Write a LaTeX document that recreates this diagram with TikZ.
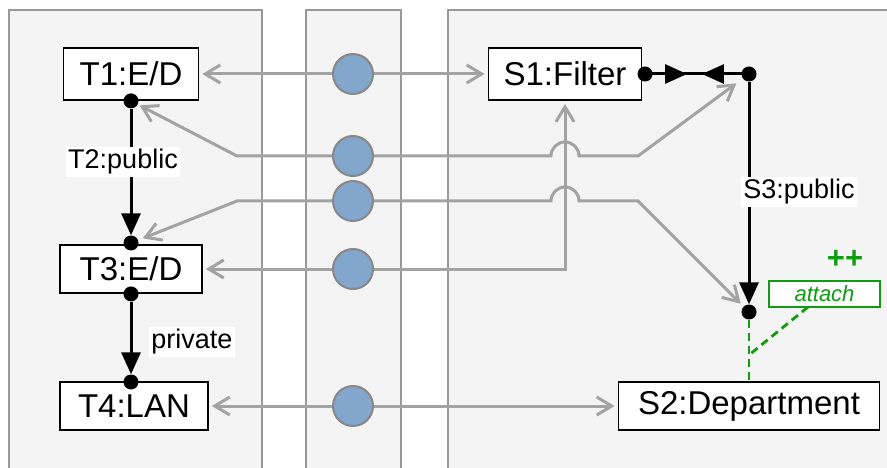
\documentclass[tikz,border=0pt]{standalone}
\usepackage{fontspec}
\setmainfont{Liberation Sans}
\usetikzlibrary{arrows.meta,decorations.markings}
\definecolor{panelfill}{HTML}{F4F4F4}
\definecolor{panelline}{HTML}{999999}
\definecolor{wirec}{HTML}{A3A3A3}
\definecolor{ballc}{HTML}{82A6CC}
\definecolor{balll}{HTML}{888888}
\definecolor{grn}{HTML}{129A12}
\begin{document}
\begin{tikzpicture}[x=1pt,y=-1pt,
 panel/.style={fill=panelfill, draw=panelline, line width=2pt},
 box/.style={draw=black, fill=white, line width=1.8pt, inner sep=0pt, font=\fontsize{33}{38}\selectfont},
 dotn/.style={circle, fill=black, inner sep=0pt, minimum size=15pt},
 ballnode/.style={circle, fill=ballc, draw=balll, line width=2pt, minimum size=40pt, inner sep=0pt},
 gtip/.tip={Straight Barb[length=15pt,width=18pt]},
 wire/.style={draw=wirec, line width=3pt, gtip-gtip},
 btip/.tip={Triangle[length=22pt,width=19pt]},
 link/.style={draw=black, line width=3pt},
 lbl/.style={fill=white, inner sep=2pt, font=\fontsize{27}{32}\selectfont},
 gdash/.style={draw=grn, line width=2.8pt, dash pattern=on 8pt off 5pt}
]
\useasboundingbox (0,0) rectangle (887,468);
\clip (0,0) rectangle (887,468);
% panels
\path[panel] (9,10) rectangle (262,520);
\path[panel] (306,10) rectangle (401,520);
\path[panel] (448,10) rectangle (920,520);

% boxes
\node[box, minimum width=135pt, minimum height=52pt] (t1) at (131,74) {T1:E/D};
\node[box, minimum width=142pt, minimum height=48pt] (t3) at (131,269) {T3:E/D};
\node[box, minimum width=148pt, minimum height=48pt] (t4) at (134,406) {T4:LAN};
\node[box, minimum width=153pt, minimum height=52pt] (s1) at (565,74) {S1:Filter};
\node[box, minimum width=261pt, minimum height=48pt] (s2) at (749,406) {S2:Department};

% dots
\node[dotn] (t1d) at (t1.south) {};
\node[dotn] (t3t) at (131,243) {};
\node[dotn] (t3b) at (t3.south) {};
\node[dotn] (t4t) at (131,382) {};
\node[dotn] (s1d) at (645,74) {};
\node[dotn] (jd) at (749,74) {};
\node[dotn] (ld) at (749,312) {};

% helper coordinates
\coordinate (a1) at (237,156);
\coordinate (a2) at (638,156);
\coordinate (b1) at (237,201);
\coordinate (b2) at (638,201);
\coordinate (cc) at (565,269);

% gray wires
\draw[wire, shorten <=3pt, shorten >=3pt] (t1.east) -- (s1.west);
\draw[wire, shorten <=8pt, shorten >=2pt] (jd) -- (a2) -- (579,156) arc[start angle=0, end angle=-180, radius=14] -- (a1) -- (t1d);
\draw[wire, shorten <=4pt, shorten >=5pt] (ld) -- (b2) -- (579,201) arc[start angle=0, end angle=-180, radius=14] -- (b1) -- (t3t);
\draw[wire, shorten <=3pt, shorten >=3pt] (t3.east) -- (cc) -- (s1.south);
\draw[wire, shorten <=3pt, shorten >=3pt] (t4.east) -- (s2.west);

% channel balls
\node[ballnode] (c1) at (353,74) {};
\node[ballnode] (c2) at (353,156) {};
\node[ballnode] (c3) at (353,201) {};
\node[ballnode] (c4) at (353,269) {};
\node[ballnode] (c5) at (353,406) {};

% black links
\draw[link, -btip] (t1d) -- (t3t);
\draw[link, -btip] (t3b) -- (t4t);
\draw[link, -btip] (jd) -- (ld);
\draw[link, postaction={decorate}, decoration={markings,
  mark=at position 0.404 with {\arrow{btip}},
  mark=at position 0.548 with {\arrowreversed{btip}}}] (s1d.center) -- (jd.center);

% labels
\node[lbl] (l1) at (123,162) {T2:public};
\node[lbl] (l2) at (192,342) {private};
\node[lbl] (l3) at (799,192) {S3:public};

% green attach
\node[text=grn, font=\fontsize{31}{34}\selectfont\bfseries] (pp) at (845,259) {++};
\node[draw=grn, line width=1.5pt, fill=white, text=grn, inner sep=0pt, minimum width=111pt, minimum height=26pt, font=\fontsize{22}{26}\selectfont\itshape] (att) at (824.5,294) {attach};
\coordinate (atb) at (808,307);
\coordinate (br) at (749,355);
\draw[gdash] (ld) -- (s2.north);
\draw[gdash] (atb) -- (br);
\end{tikzpicture}
\end{document}
